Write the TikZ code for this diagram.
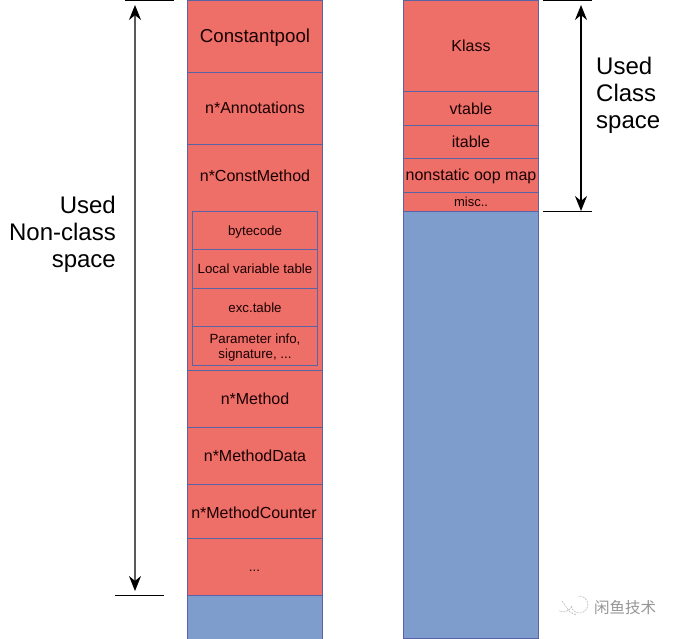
\documentclass[tikz,border=0pt]{standalone}
\usepackage{fontspec}
\setmainfont{Liberation Sans}
\newfontfamily\cjkwm{Noto Sans CJK SC}
\usetikzlibrary{arrows.meta}
\definecolor{cellred}{RGB}{238,110,104}
\definecolor{cellblue}{RGB}{126,157,204}
\definecolor{celledge}{RGB}{88,100,165}
\definecolor{wmgray}{RGB}{150,150,150}
\tikzset{
  x=1pt,y=-1pt,
  cell/.style={draw=celledge,line width=1pt,fill=cellred,minimum width=135pt,inner sep=0pt,outer sep=0pt,text=black!90!red,align=center,text depth=0pt},
  sub/.style={cell,minimum width=125pt},
  free/.style={cell,fill=cellblue},
  celltext/.style={inner sep=0pt,text depth=0pt,align=center,text=black!90!red},
  tick/.style={draw=black,line width=1pt},
  span/.style={line width=1.2pt,{Stealth[length=15pt,width=12pt,color=black]}-{Stealth[length=15pt,width=12pt,color=black]}},
  big/.style={font=\fontsize{24}{27}\selectfont,inner sep=0pt},
  fA/.style={font=\fontsize{18.7}{21}\selectfont},
  fB/.style={font=\fontsize{16}{19}\selectfont},
  fC/.style={font=\fontsize{13.3}{14.5}\selectfont},
  fM/.style={font=\fontsize{13}{15}\selectfont},
}
\begin{document}
\begin{tikzpicture}
\useasboundingbox (0,0) rectangle (677,638);
% left column
\node[cell,fA,minimum height=72pt] (cp) at (255,36) {Constantpool};
\node[cell,fB,minimum height=72pt] (ann) at (255,108) {n*Annotations};
\node[cell,minimum height=226pt] (cm) at (255,257) {};
\node[celltext,fB] (cmt) at (255,176) {n*ConstMethod};
\node[sub,fC,minimum height=38.5pt] (bc) at (255,230.5) {bytecode};
\node[sub,fC,minimum height=38.5pt] (lv) at (255,269) {Local variable table};
\node[sub,fC,minimum height=38.5pt] (exc) at (255,307.5) {exc.table};
\node[sub,minimum height=38.5pt] (par) at (255,346) {};
\node[celltext,fC] (part) at (255,346) {Parameter info,\\signature, ...};
\node[cell,fB,minimum height=57pt] (me) at (255,398.5) {n*Method};
\node[cell,fB,minimum height=57pt] (md) at (255,455.5) {n*MethodData};
\node[cell,minimum height=54pt] (mc) at (255,511) {};
\node[celltext,fB] (mct) at (254,513) {n*MethodCounter};
\node[cell,minimum height=57pt] (dots) at (255,566.5) {};
\node[celltext,fC] (dotst) at (254.5,570.5) {...};
\node[free,minimum height=44pt] (lf) at (255,617) {};
% right column
\node[cell,fB,minimum height=91pt] (kl) at (471,45.5) {Klass};
\node[cell,fB,minimum height=34pt] (vt) at (471,108.5) {vtable};
\node[cell,fB,minimum height=33pt] (it) at (471,141.5) {itable};
\node[cell,fB,minimum height=34pt] (oop) at (471,175) {nonstatic oop map};
\node[cell,fM,minimum height=19pt] (misc) at (471,201.5) {misc..};
\node[free,minimum height=427pt] (rf) at (471,424.5) {};
% non-class span
\coordinate (lt1) at (125,0.5); \coordinate (lt2) at (174,0.5);
\coordinate (lb1) at (115,595); \coordinate (lb2) at (164,595);
\coordinate (la) at (135,5); \coordinate (lz) at (135,591);
\draw[tick] (lt1) -- (lt2);
\draw[tick] (lb1) -- (lb2);
\draw[span,draw=black!65] (la) -- (lz);
\node[big,anchor=east,align=right] (ln) at (116,234) {Used\\Non-class\\space};
% class span
\coordinate (rt1) at (543,0.5); \coordinate (rt2) at (592,0.5);
\coordinate (rb1) at (543,211); \coordinate (rb2) at (592,211);
\coordinate (ra) at (581,5); \coordinate (rz) at (581,211);
\draw[tick] (rt1) -- (rt2);
\draw[tick] (rb1) -- (rb2);
\draw[span,draw=black] (ra) -- (rz);
\node[big,anchor=west,align=left] (rn) at (596,95) {Used\\Class\\space};
% watermark
\node[text=wmgray,inner sep=0pt,font=\cjkwm\fontsize{15.5}{18}\selectfont] (wm) at (625,607.5) {闲鱼技术};
\draw[wmgray!60,line width=.7pt,dash pattern=on 2pt off 1pt] (571,606) arc (170:-100:8.5);
\draw[wmgray!60,line width=.7pt,dash pattern=on 2pt off 1pt] (572,606) arc (20:120:9);
\draw[wmgray!60,line width=.7pt,dash pattern=on 2pt off 1pt] (562,601) -- (570,612) -- (576,615);
\end{tikzpicture}
\end{document}
